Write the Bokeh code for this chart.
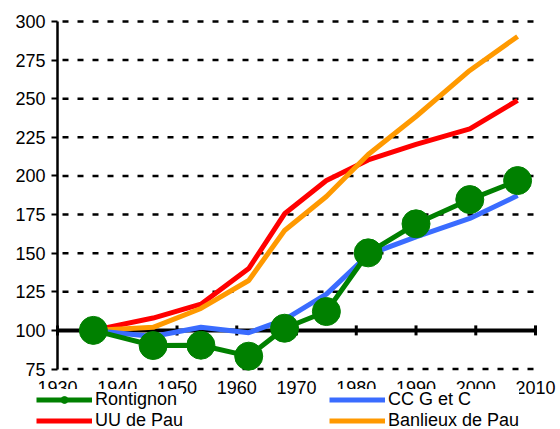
import math
from bokeh.plotting import figure
from bokeh.models import Range1d, FixedTicker, Legend, LegendItem
from bokeh.embed import file_html
from bokeh.resources import INLINE

# ---- data ----
years = [1936, 1946, 1954, 1962, 1968, 1975, 1982, 1990, 1999, 2007]
rontignon = [100, 90.2, 90.4, 83.3, 101.4, 112.2, 150.2, 169.0, 184.7, 197.0]
uu_pau = [100, 108.0, 117.0, 140.0, 175.5, 197.0, 210.4, 220.4, 230.5, 249.0]
cc_getc = [100, 96.0, 102.0, 98.5, 107.0, 123.5, 149.0, 160.5, 172.5, 187.3]
banlieues = [100, 102.0, 114.2, 132.3, 164.7, 186.7, 213.9, 238.5, 268.3, 290.3]

x_ticks = [1930, 1940, 1950, 1960, 1970, 1980, 1990, 2000, 2010]
y_ticks = [75, 100, 125, 150, 175, 200, 225, 250, 275, 300]
x_min, x_max = 1930, 2010
y_min, y_max = 75, 300
base_value = 100

FONT = "Liberation Sans"

# the frame fills the whole canvas; axes are placed at fixed data locations
p = figure(width=560, height=429, output_backend="svg", toolbar_location=None,
           x_range=Range1d(1920.46, 2014.18), y_range=Range1d(35.83, 313.6),
           min_border_left=0, min_border_right=0, min_border_top=0,
           min_border_bottom=0)
p.outline_line_color = None
p.background_fill_color = "white"
p.border_fill_color = "white"

# y axis
p.yaxis.ticker = FixedTicker(ticks=y_ticks)
p.yaxis.fixed_location = x_min
p.yaxis.bounds = (y_min, y_max)
p.yaxis.axis_line_color = "black"
p.yaxis.axis_line_width = 2.5
p.yaxis.major_tick_line_color = "black"
p.yaxis.major_tick_line_width = 2
p.yaxis.major_tick_out = 6
p.yaxis.major_tick_in = 0
p.yaxis.minor_tick_line_color = None
p.yaxis.major_label_standoff = 6
p.yaxis.major_label_text_font = FONT
p.yaxis.major_label_text_font_size = "18px"
p.yaxis.major_label_text_color = "black"

# x axis: labels only, placed below the 75 line (partly hidden by the legend)
p.xaxis.ticker = FixedTicker(ticks=x_ticks)
p.xaxis.fixed_location = y_min
p.xaxis.axis_line_color = None
p.xaxis.major_tick_line_color = None
p.xaxis.minor_tick_line_color = None
p.xaxis.major_tick_out = 0
p.xaxis.major_tick_in = 0
p.xaxis.major_label_standoff = 12
p.xaxis.major_label_text_font = FONT
p.xaxis.major_label_text_font_size = "18px"
p.xaxis.major_label_text_color = "black"

# grid: dashed horizontal lines limited to the plot area
p.xgrid.grid_line_color = None
p.ygrid.grid_line_color = None
p.segment(x0=[x_min] * len(y_ticks), x1=[x_max] * len(y_ticks),
          y0=y_ticks, y1=y_ticks, line_color="black", line_width=2.5,
          line_dash="6 9", line_dash_offset=10)

# base line at 100 acting as x axis, with decade ticks
p.segment(x0=[x_min], x1=[x_max], y0=[base_value], y1=[base_value],
          line_color="black", line_width=4)
p.scatter(x=x_ticks, y=[base_value] * len(x_ticks), marker="dash",
          angle=math.pi / 2, size=10, line_color="black", line_width=3)

# series
r_uu = p.line(years, uu_pau, line_color="#ff0000", line_width=5)
r_ban = p.line(years, banlieues, line_color="#ff9900", line_width=5)
r_cc = p.line(years, cc_getc, line_color="#3a6cff", line_width=5)
r_ron_l = p.line(years, rontignon, line_color="#008000", line_width=5)
r_ron_m = p.scatter(years, rontignon, size=28, fill_color="#008000",
                    line_color="#008000")

common = dict(background_fill_color="white", background_fill_alpha=1.0,
              border_line_color=None, padding=4, margin=0, spacing=0,
              glyph_width=56, glyph_height=17, label_height=17,
              label_standoff=3, label_text_font=FONT,
              label_text_font_size="18px", label_text_color="black",
              label_text_line_height=1.0)

leg1 = Legend(items=[LegendItem(label="Rontignon", renderers=[r_ron_l, r_ron_m]),
                     LegendItem(label="UU de Pau", renderers=[r_uu])],
              location=(36, -2), **common)
leg2 = Legend(items=[LegendItem(label="CC G et C", renderers=[r_cc]),
                     LegendItem(label="Banlieux de Pau", renderers=[r_ban])],
              location=(329, -2), **common)
p.add_layout(leg1, "center")
p.add_layout(leg2, "center")

open("out.html", "w").write(file_html(p, INLINE))
